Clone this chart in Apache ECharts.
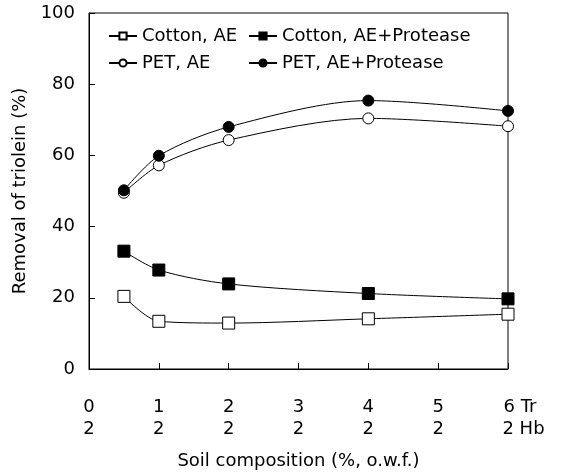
<!DOCTYPE html>
<html>
<head>
<meta charset="utf-8">
<script src="https://cdn.jsdelivr.net/npm/echarts@6/dist/echarts.min.js"></script>
<style>html,body{margin:0;padding:0;background:#fff;}#c{width:562px;height:475px;}</style>
</head>
<body>
<div id="c"></div>
<script>
var xPositions = [0.5, 1, 2, 4, 6];
var cottonAE = [20.4, 13.4, 12.9, 14.1, 15.4];
var cottonAEProtease = [33.1, 27.8, 23.9, 21.2, 19.7];
var petAE = [49.5, 57.2, 64.3, 70.4, 68.2];
var petAEProtease = [50.2, 59.9, 68.0, 75.4, 72.5];
var xTopLabels = ['0', '1', '2', '3', '4', '5', '6'];
var xBottomLabels = ['2', '2', '2', '2', '2', '2', '2'];
var lastTopSuffix = 'Tr';
var lastBottomSuffix = 'Hb';
var seriesNames = ['Cotton, AE', 'Cotton, AE+Protease', 'PET, AE', 'PET, AE+Protease'];

var FONT = 'DejaVu Sans';
var FS = 18;
function pairs(vals){ return xPositions.map(function(x,i){ return [x, vals[i]]; }); }

var chart = echarts.init(document.getElementById('c'), null, {renderer:'canvas'});
function mk(name, vals, symbol, filled, size){
  return {
    name: name, type: 'line', data: pairs(vals), smooth: 0.3,
    symbol: symbol, symbolSize: size,
    lineStyle: {color:'#000', width:1},
    itemStyle: {color: filled ? '#000' : '#fff', borderColor:'#000', borderWidth:1},
    emphasis: {disabled:true}, animation:false
  };
}
var legendText = {fontFamily: FONT, fontSize: FS, color:'#000'};
var tokenBase = {fontFamily:FONT, fontSize:FS, color:'#000', lineHeight:22};
chart.setOption({
  animation: false,
  grid: {left: 89, right: 54, top: 13, bottom: 98, show: true, borderColor:'#000', borderWidth:1, backgroundColor:'transparent'},
  legend: [
    {data:[seriesNames[0], seriesNames[2]], orient:'vertical', left:108, top:27, padding:0, itemWidth:28, itemHeight:9, itemGap:9, textStyle:legendText, selectedMode:false},
    {data:[seriesNames[1], seriesNames[3]], orient:'vertical', left:248, top:27, padding:0, itemWidth:28, itemHeight:9, itemGap:9, textStyle:legendText, selectedMode:false}
  ],
  xAxis: {
    type:'value', min:0, max:6, interval:1,
    name:'Soil composition (%, o.w.f.)', nameLocation:'middle', nameGap:83,
    nameTextStyle:{fontFamily:FONT, fontSize:FS, color:'#000'},
    axisLine:{lineStyle:{color:'#000', width:1}},
    axisTick:{inside:true, length:6, lineStyle:{color:'#000'}},
    splitLine:{show:false},
    axisLabel:{
      margin:27, fontFamily:FONT, fontSize:FS, color:'#000', lineHeight:22,
      formatter:function(v){
        var i = Math.round(v);
        if (i === 6) return '{p1|}' + xTopLabels[i] + '{s| ' + lastTopSuffix + '}\n{p2|}' + xBottomLabels[i] + '{s| ' + lastBottomSuffix + '}';
        return xTopLabels[i] + '\n' + xBottomLabels[i];
      },
      rich:{
        p1:Object.assign({width:24}, tokenBase),
        p2:Object.assign({width:31}, tokenBase),
        s:Object.assign({}, tokenBase)
      }
    }
  },
  yAxis: {
    type:'value', min:0, max:100, interval:20,
    name:'Removal of triolein (%)', nameLocation:'middle', nameGap:55, nameRotate:90,
    nameTextStyle:{fontFamily:FONT, fontSize:FS, color:'#000'},
    axisLine:{show:true, lineStyle:{color:'#000', width:1}},
    axisTick:{show:true, inside:true, length:6, lineStyle:{color:'#000'}},
    splitLine:{show:false},
    axisLabel:{margin:14, fontFamily:FONT, fontSize:FS, color:'#000'}
  },
  series: [
    mk(seriesNames[0], cottonAE, 'rect', false, 12),
    mk(seriesNames[1], cottonAEProtease, 'rect', true, 12),
    mk(seriesNames[2], petAE, 'circle', false, 11),
    mk(seriesNames[3], petAEProtease, 'circle', true, 11)
  ]
});
</script>
</body>
</html>
